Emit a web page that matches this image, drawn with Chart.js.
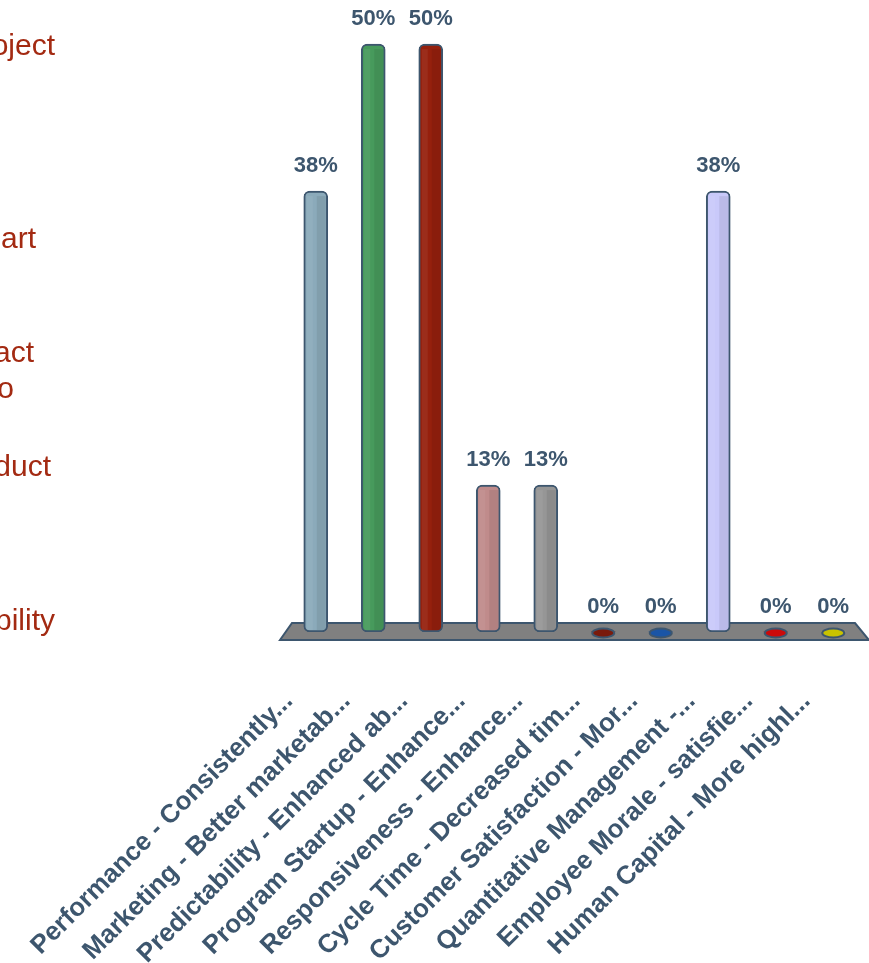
<!DOCTYPE html>
<html>
<head>
<meta charset="utf-8">
<title>Benefits</title>
<script src="https://cdn.jsdelivr.net/npm/chart.js@4.4.1/dist/chart.umd.min.js"></script>
<style>
    html, body { margin: 0; padding: 0; background: #fff; }
    #wrap { position: relative; width: 869px; height: 963px; overflow: hidden; }
    #wrap canvas { position: absolute; left: 0; top: 0; }
    .side {
        position: absolute; left: 0; width: 70px; height: 40px; overflow: hidden;
        font: 30px "Liberation Sans", Arial, sans-serif; color: #a32a12;
    }
    .side span { position: absolute; top: 0; line-height: 40px; white-space: nowrap; }
</style>
</head>
<body>
<div id="wrap">
    <canvas id="benefitChart" width="869" height="963"></canvas>
</div>
<script>
// Responses per benefit area (percent of votes)
const categories = [
    "Performance - Consistently...",
    "Marketing - Better marketab...",
    "Predictability - Enhanced ab...",
    "Program Startup - Enhance...",
    "Responsiveness - Enhance...",
    "Cycle Time - Decreased tim...",
    "Customer Satisfaction - Mor...",
    "Quantitative Management -...",
    "Employee Morale - satisfie...",
    "Human Capital - More highl..."
];
const responses = [37.5, 50, 50, 12.5, 12.5, 0, 0, 37.5, 0, 0];
const barColors = [
    "#8baaba", "#479a5c", "#95200d", "#c08b8b", "#969696",
    "#7a1a0c", "#1a55a6", "#c9c9fa", "#cc0a0a", "#c8c200"
];

// Left-hand text fragments: [text, right edge, centre y]
const sideLines = [
    ["oject", 55, 45],
    ["art", 36, 238],
    ["act", 34, 352],
    ["o", 14, 388],
    ["duct", 51, 466],
    ["bility", 55, 620]
];

const wrap = document.getElementById("wrap");
sideLines.forEach(([text, right, cy]) => {
    const box = document.createElement("div");
    box.className = "side";
    box.style.top = (cy - 20) + "px";
    const span = document.createElement("span");
    span.textContent = text;
    span.style.right = (70 - right) + "px";
    box.appendChild(span);
    wrap.appendChild(box);
});

const inkColor = "#3d566e";
const fontFamily = '"Liberation Sans", Arial, sans-serif';

// Grey floor under the bars, shading, zero markers and value labels
const floorPlugin = {
    id: "floorPlugin",
    beforeDatasetsDraw(chart) {
        const { ctx, chartArea } = chart;
        const yBase = chart.scales.y.getPixelForValue(0);
        ctx.save();
        ctx.beginPath();
        ctx.moveTo(chartArea.left - 7, yBase + 8);
        ctx.lineTo(chartArea.left + 5, yBase - 9);
        ctx.lineTo(chartArea.right - 7, yBase - 9);
        ctx.lineTo(chartArea.right + 7, yBase + 8);
        ctx.closePath();
        ctx.fillStyle = "#808080";
        ctx.fill();
        ctx.lineWidth = 2;
        ctx.strokeStyle = inkColor;
        ctx.stroke();
        ctx.restore();
    },
    afterDatasetsDraw(chart) {
        const { ctx } = chart;
        const meta = chart.getDatasetMeta(0);
        ctx.save();
        meta.data.forEach((bar, i) => {
            const value = responses[i];
            const half = bar.width / 2;
            if (value > 0) {
                // darker band on the right side for a rounded look
                ctx.fillStyle = "rgba(0,0,0,0.07)";
                ctx.fillRect(bar.x + 1, bar.y + 5, half - 3, bar.base - bar.y - 7);
                ctx.fillStyle = "rgba(255,255,255,0.06)";
                ctx.fillRect(bar.x - half + 3, bar.y + 5, half - 6, bar.base - bar.y - 7);
            } else {
                ctx.beginPath();
                ctx.ellipse(bar.x, bar.base + 1, 11, 4.5, 0, 0, Math.PI * 2);
                ctx.fillStyle = barColors[i];
                ctx.fill();
                ctx.lineWidth = 2;
                ctx.strokeStyle = inkColor;
                ctx.stroke();
            }
            ctx.fillStyle = inkColor;
            ctx.font = "bold 22px " + fontFamily;
            ctx.textAlign = "center";
            ctx.textBaseline = "middle";
            ctx.fillText(Math.round(value) + "%", bar.x, bar.y - 25);
        });
        ctx.restore();
    }
};

const ctx = document.getElementById("benefitChart").getContext("2d");
const benefitChart = new Chart(ctx, {
    type: "bar",
    data: {
        labels: categories,
        datasets: [{
            data: responses,
            backgroundColor: barColors,
            borderColor: inkColor,
            borderWidth: (c) => (responses[c.dataIndex] > 0 ? 2 : 0),
            borderSkipped: false,
            borderRadius: 6,
            barThickness: 24
        }]
    },
    options: {
        responsive: false,
        animation: false,
        layout: {
            padding: { left: 287, right: 7, top: 0, bottom: 0 }
        },
        plugins: {
            legend: { display: false },
            tooltip: { enabled: false }
        },
        scales: {
            x: {
                grid: { display: false, drawTicks: false },
                border: { display: false },
                ticks: {
                    autoSkip: false,
                    minRotation: 45,
                    maxRotation: 45,
                    padding: 54,
                    labelOffset: -27,
                    color: inkColor,
                    font: { family: fontFamily, size: 26, weight: "bold" }
                },
                afterFit(scale) {
                    // keep the plot area fixed; labels may spill into the margin
                    scale.height = 331;
                    scale.paddingLeft = 0;
                    scale.paddingRight = 0;
                }
            },
            y: {
                display: false,
                min: 0,
                max: 53.75
            }
        }
    },
    plugins: [floorPlugin]
});
</script>
</body>
</html>
